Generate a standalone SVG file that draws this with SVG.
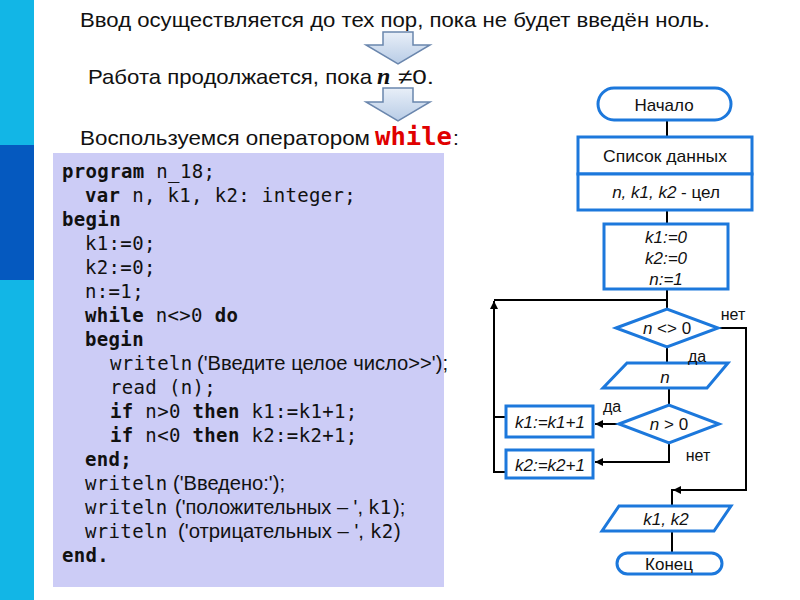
<svg xmlns="http://www.w3.org/2000/svg" width="800" height="600" viewBox="0 0 800 600">
<defs>
<style>
.hdr{font-family:"Liberation Sans",Arial,sans-serif;font-size:21px;fill:#111}
.mono{font-family:"DejaVu Sans Mono","Liberation Mono",monospace;font-size:19px;letter-spacing:0.35px;fill:#111}
.b{font-weight:bold}
.ar{font-family:"Liberation Sans",Arial,sans-serif;font-size:20px;fill:#111}
.fs{fill:#fff;stroke:#1c78dc;stroke-width:3}
.ft{font-family:"Liberation Sans",Arial,sans-serif;font-size:17px;fill:#111;text-anchor:middle}
.it{font-style:italic}
.lbl{font-family:"Liberation Sans",Arial,sans-serif;font-size:16px;fill:#111;text-anchor:middle}
.ln{fill:none;stroke:#000;stroke-width:2}
.blk{fill:url(#ag);stroke:#6a86ad;stroke-width:1.5}
</style>
<linearGradient id="ag" x1="0" y1="0" x2="0" y2="1">
<stop offset="0" stop-color="#e8eff8"/>
<stop offset="1" stop-color="#b8cce6"/>
</linearGradient>
<marker id="ah" markerUnits="userSpaceOnUse" markerWidth="9" markerHeight="8" refX="8" refY="4" orient="auto">
<path d="M0,0 L8,4 L0,8 z" fill="#000"/>
</marker>
</defs>
<rect width="800" height="600" fill="#fff"/>
<g id="sidebar">
<rect x="0" y="0" width="34" height="600" fill="#12b6e6"/>
<rect x="0" y="145" width="34" height="135" fill="#0559bf"/>
</g>
<g id="heading">
<text class="hdr" x="80" y="27" textLength="630" lengthAdjust="spacingAndGlyphs">Ввод осуществляется до тех пор, пока не будет введён ноль.</text>
<text class="hdr" x="88" y="84" textLength="284" lengthAdjust="spacingAndGlyphs">Работа продолжается, пока</text>
<text x="377" y="84" font-family="Liberation Serif,serif" font-size="24" font-weight="bold" font-style="italic" fill="#111">n</text>
<text class="hdr" x="398" y="84" textLength="36" lengthAdjust="spacingAndGlyphs">≠0.</text>
<text class="hdr" x="80" y="145" textLength="290" lengthAdjust="spacingAndGlyphs">Воспользуемся оператором</text>
<text x="375" y="145" font-family="DejaVu Sans Mono,monospace" font-size="24" font-weight="bold" fill="#e00000" textLength="77" lengthAdjust="spacingAndGlyphs">while</text>
<text class="hdr" x="453" y="145">:</text>
</g>
<g id="block-arrows">
<polygon class="blk" points="383,32 413,32 413,45 430,45 398,64 366,45 383,45"/>
<polygon class="blk" points="383,88 413,88 413,102 430,102 398,121 366,102 383,102"/>
</g>
<g id="code">
<rect x="53" y="153" width="391" height="434" fill="#ccccf6"/>
<text class="mono" x="62" y="178" xml:space="preserve"><tspan class="b">program</tspan> n_18;</text>
<text class="mono" x="85" y="202" xml:space="preserve"><tspan class="b">var</tspan> n, k1, k2: integer;</text>
<text class="mono b" x="62" y="226">begin</text>
<text class="mono" x="85" y="250">k1:=0;</text>
<text class="mono" x="85" y="274">k2:=0;</text>
<text class="mono" x="85" y="298">n:=1;</text>
<text class="mono" x="85" y="322" xml:space="preserve"><tspan class="b">while</tspan> n&lt;&gt;0 <tspan class="b">do</tspan></text>
<text class="mono b" x="85" y="346">begin</text>
<text class="mono" x="110" y="370">writeln</text>
<text class="ar" x="197" y="370" textLength="251" lengthAdjust="spacingAndGlyphs">('Введите целое число&gt;&gt;');</text>
<text class="mono" x="110" y="394">read (n);</text>
<text class="mono" x="110" y="418" xml:space="preserve"><tspan class="b">if</tspan> n&gt;0 <tspan class="b">then</tspan> k1:=k1+1;</text>
<text class="mono" x="110" y="442" xml:space="preserve"><tspan class="b">if</tspan> n&lt;0 <tspan class="b">then</tspan> k2:=k2+1;</text>
<text class="mono b" x="85" y="466">end;</text>
<text class="mono" x="85" y="490">writeln</text>
<text class="ar" x="173" y="490" textLength="112" lengthAdjust="spacingAndGlyphs">('Введено:');</text>
<text class="mono" x="85" y="514">writeln</text>
<text class="ar" x="175" y="514" textLength="188" lengthAdjust="spacingAndGlyphs">('положительных – ',</text>
<text class="mono" x="368" y="514">k1</text>
<text class="ar" x="393" y="514">);</text>
<text class="mono" x="85" y="538">writeln</text>
<text class="ar" x="178" y="538" textLength="186" lengthAdjust="spacingAndGlyphs">('отрицательных – ',</text>
<text class="mono" x="370" y="538">k2</text>
<text class="ar" x="394" y="538">)</text>
<text class="mono b" x="62" y="562">end.</text>
</g>
<g id="connectors">
<path class="ln" d="M667,120 V137"/>
<path class="ln" d="M667,210 V223"/>
<path class="ln" d="M667,289 V309"/>
<path class="ln" d="M494,300 H667"/>
<path class="ln" d="M506,472 H494 V301" marker-end="url(#ah)"/>
<path class="ln" d="M506,417 H494"/>
<path class="ln" d="M718,328 H746 V490 H673" marker-end="url(#ah)"/>
<path class="ln" d="M672,489 V506"/>
<path class="ln" d="M667,347 V363"/>
<path class="ln" d="M669,388 V405"/>
<path class="ln" d="M619,424 H595" marker-end="url(#ah)"/>
<path class="ln" d="M669,443 V462 H595" marker-end="url(#ah)"/>
<path class="ln" d="M672,531 V553"/>
</g>
<g id="start">
<rect class="fs" x="598" y="88" width="133" height="32" rx="16"/>
<text class="ft" x="664" y="111" font-size="17.5">Начало</text>
</g>
<g id="data-list">
<rect class="fs" x="578" y="137" width="174" height="37"/>
<text class="ft" x="665" y="162" textLength="124" lengthAdjust="spacingAndGlyphs">Список данных</text>
</g>
<g id="data-types">
<rect class="fs" x="578" y="174" width="174" height="36"/>
<text class="ft" x="666" y="198"><tspan class="it">n, k1, k2</tspan> - цел</text>
</g>
<g id="init">
<rect class="fs" x="604" y="224" width="124" height="65"/>
<text class="ft it" x="666" y="243">k1:=0</text>
<text class="ft it" x="666" y="264">k2:=0</text>
<text class="ft it" x="666" y="285">n:=1</text>
</g>
<g id="cond-loop">
<polygon class="fs" points="616,328 667,309 718,328 667,347"/>
<text class="ft" x="667" y="334" font-size="18"><tspan class="it">n</tspan> &lt;&gt; 0</text>
</g>
<g id="input-n">
<polygon class="fs" points="627,363 728,363 707,388 603,388"/>
<text class="ft it" x="665" y="383" font-size="18">n</text>
</g>
<g id="cond-pos">
<polygon class="fs" points="619,424 669,405 719,424 669,443"/>
<text class="ft" x="669" y="430" font-size="18"><tspan class="it">n</tspan> &gt; 0</text>
</g>
<g id="inc-k1">
<rect class="fs" x="506" y="406" width="87" height="31"/>
<text class="ft it" x="550" y="428" font-size="18.5">k1:=k1+1</text>
</g>
<g id="inc-k2">
<rect class="fs" x="506" y="450" width="87" height="28"/>
<text class="ft it" x="550" y="471" font-size="18.5">k2:=k2+1</text>
</g>
<g id="output">
<polygon class="fs" points="619,506 731,506 714,531 602,531"/>
<text class="ft it" x="666" y="525">k1, k2</text>
</g>
<g id="end">
<rect class="fs" x="617" y="553" width="105" height="21" rx="10.5"/>
<text class="ft" x="669" y="570">Конец</text>
</g>
<g id="labels">
<text class="lbl" x="733" y="320">нет</text>
<text class="lbl" x="697" y="362">да</text>
<text class="lbl" x="612" y="412">да</text>
<text class="lbl" x="698" y="461">нет</text>
</g>
</svg>
